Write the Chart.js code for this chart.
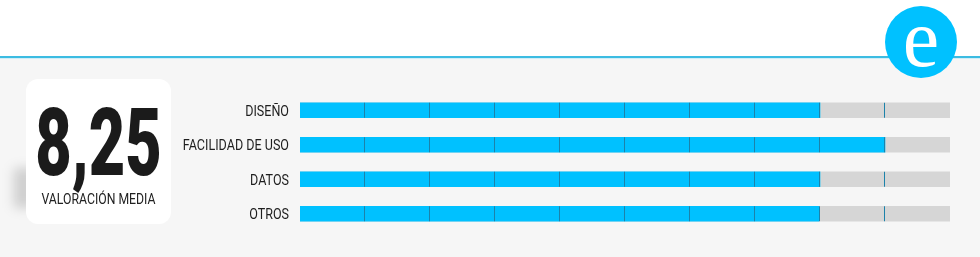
<!DOCTYPE html>
<html>
<head>
<meta charset="utf-8">
<script src="https://cdn.jsdelivr.net/npm/chart.js@4"></script>
<style>
  body { margin: 0; width: 980px; height: 257px; overflow: hidden; background: #f6f6f6; position: relative; font-family: Roboto, sans-serif; }
  .top { position: absolute; left: 0; top: 0; width: 980px; height: 57px; background: #fff; }
  .rule { position: absolute; left: 0; top: 56px; width: 980px; height: 2px; background: #3cbce2; border-bottom: 1px solid #cfeef8; z-index: 2; }
  #chart { position: absolute; left: 0; top: 0; }
  .logo { position: absolute; left: 885px; top: 6px; width: 72px; height: 72px; border-radius: 50%; background: #00c1ff; color: #fff; z-index: 3;
          font-family: "Liberation Serif", "Times New Roman", serif; font-size: 82px; line-height: 66px; text-align: center; }
  .shade { position: absolute; left: 14px; top: 168px; width: 20px; height: 40px; background: rgba(0,0,0,0.16); filter: blur(6px); }
  .box { position: absolute; left: 26px; top: 79px; width: 145px; height: 145px; background: #fff; border-radius: 12px; }
  .score { position: absolute; left: -40px; top: 17px; width: 225px; text-align: center; font-size: 94px; font-weight: 900; line-height: 94px;
           color: #1b1b1b; transform: scaleX(0.67); }
  .caption { position: absolute; left: -30px; top: 111px; width: 205px; text-align: center; font-size: 15.5px; line-height: 18px; color: #222;
             transform: scaleX(0.79); }
</style>
</head>
<body>
<div class="top"></div>
<div class="shade"></div>
<div class="box">
  <div class="score">8,25</div>
  <div class="caption">VALORACIÓN MEDIA</div>
</div>
<canvas id="chart" width="980" height="257"></canvas>
<div class="rule"></div>
<div class="logo">e</div>
<script>
const categories = ['DISEÑO', 'FACILIDAD DE USO', 'DATOS', 'OTROS'];
const scores = [8, 9, 8, 7.98];
const maxScores = [10, 10, 10, 10];
const dividerValues = [1, 2, 3, 4, 5, 6, 7, 8, 9];

// líneas divisorias sobre cada barra
const dividers = {
  id: 'dividers',
  afterDatasetsDraw(chart) {
    const ctx = chart.ctx;
    const xScale = chart.scales.x;
    const track = chart.getDatasetMeta(1);
    ctx.save();
    ctx.strokeStyle = '#1c82aa';
    ctx.lineWidth = 1;
    track.data.forEach(bar => {
      const top = bar.y - bar.height / 2;
      const bottom = bar.y + bar.height / 2;
      dividerValues.forEach(v => {
        const x = Math.round(xScale.getPixelForValue(v)) - 0.5;
        ctx.beginPath();
        ctx.moveTo(x, top);
        ctx.lineTo(x, bottom);
        ctx.stroke();
      });
    });
    ctx.restore();
  }
};

// etiquetas del eje Y en letra estrecha
const narrowLabels = {
  id: 'narrowLabels',
  afterDraw(chart) {
    const ctx = chart.ctx;
    const yScale = chart.scales.y;
    ctx.save();
    ctx.font = '15.5px Roboto, sans-serif';
    ctx.fillStyle = '#1e1e1e';
    ctx.textAlign = 'right';
    ctx.textBaseline = 'middle';
    chart.data.labels.forEach((label, i) => {
      ctx.save();
      ctx.translate(chart.chartArea.left - 11, yScale.getPixelForTick(i) + 1.5);
      ctx.scale(0.81, 1);
      ctx.fillText(label, 0, 0);
      ctx.restore();
    });
    ctx.restore();
  }
};

new Chart(document.getElementById('chart'), {
  type: 'bar',
  data: {
    labels: categories,
    datasets: [
      { data: scores, backgroundColor: '#00c1ff', barThickness: 15, grouped: false },
      { data: maxScores, backgroundColor: '#d6d6d6', barThickness: 15, grouped: false }
    ]
  },
  options: {
    indexAxis: 'y',
    responsive: false,
    animation: false,
    devicePixelRatio: 1,
    layout: { padding: { top: 93, bottom: 26, right: 30, left: 0 } },
    scales: {
      x: { min: 0, max: 10, display: false },
      y: {
        grid: { display: false, drawTicks: false },
        border: { display: false },
        ticks: { display: false },
        afterFit(scale) { scale.width = 300; }
      }
    },
    plugins: { legend: { display: false }, tooltip: { enabled: false } }
  },
  plugins: [dividers, narrowLabels]
});
</script>
</body>
</html>
